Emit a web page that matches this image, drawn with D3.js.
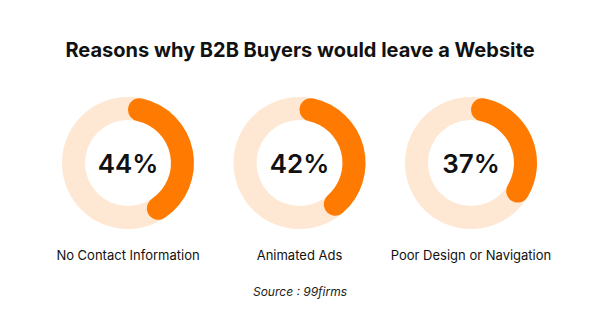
<!DOCTYPE html>
<html>
<head>
<meta charset="utf-8">
<script src="https://cdn.jsdelivr.net/npm/d3@7"></script>
<style>
  html, body { margin: 0; padding: 0; background: #ffffff; }
  svg { display: block; font-family: Inter, "Noto Sans", sans-serif; }
</style>
</head>
<body>
<svg id="chart" width="600" height="330"></svg>
<script>
// Share of B2B buyers leaving a website, by reason
const categories = ["No Contact Information", "Animated Ads", "Poor Design or Navigation"];
const values = [44, 42, 37];
const valueLabels = ["44%", "42%", "37%"];
const title = "Reasons why B2B Buyers would leave a Website";
const source = "Source : 99firms";

const width = 600, height = 330;
const svg = d3.select("#chart");

const x = d3.scalePoint().domain(categories).range([128, 471]);
const cy = 163;
const outerR = 66, innerR = 43;

// angle scale: percent -> radians
const angle = d3.scaleLinear().domain([0, 100]).range([0, 2 * Math.PI]);

const trackArc = d3.arc().innerRadius(innerR).outerRadius(outerR).startAngle(0).endAngle(2 * Math.PI);
const valueArc = d3.arc().innerRadius(innerR).outerRadius(outerR)
  .cornerRadius((outerR - innerR) / 2).startAngle(0);

svg.append("text")
  .attr("x", width / 2).attr("y", 57)
  .attr("text-anchor", "middle")
  .attr("font-size", 20).attr("font-weight", 700)
  .attr("fill", "#111111")
  .text(title);

const g = svg.selectAll("g.donut").data(categories).join("g")
  .attr("class", "donut")
  .attr("transform", d => `translate(${x(d)},${cy})`);

g.append("path").attr("d", trackArc()).attr("fill", "#fee7d3");
g.append("path")
  .attr("d", (d, i) => valueArc({ endAngle: angle(values[i]) }))
  .attr("fill", "#ff7a00");

g.append("text")
  .attr("y", 9.5)
  .attr("text-anchor", "middle")
  .attr("font-size", 26).attr("font-weight", 600)
  .attr("fill", "#111111")
  .text((d, i) => valueLabels[i]);

svg.selectAll("text.cat").data(categories).join("text")
  .attr("class", "cat")
  .attr("x", d => x(d)).attr("y", 260)
  .attr("text-anchor", "middle")
  .attr("font-size", 13)
  .attr("fill", "#111111")
  .text(d => d);

svg.append("text")
  .attr("x", width / 2).attr("y", 296)
  .attr("text-anchor", "middle")
  .attr("font-size", 12).attr("font-style", "italic")
  .attr("fill", "#222222")
  .text(source);
</script>
</body>
</html>
